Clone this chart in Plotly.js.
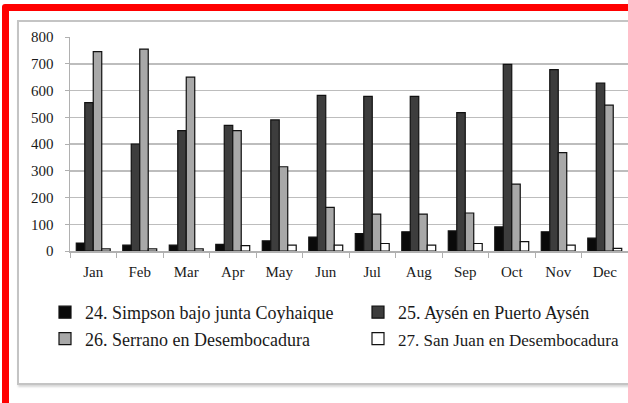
<!DOCTYPE html>
<html>
<head>
<meta charset="utf-8">
<script src="https://cdn.plot.ly/plotly-3.0.1.min.js"></script>
<style>
  html, body { margin: 0; padding: 0; background: #fff; width: 628px; height: 403px; overflow: hidden; }
  #frame-red { position: absolute; left: 2px; top: 4px; width: 660px; height: 392px; border: 7px solid #ff0000; border-radius: 3px; box-sizing: content-box; }
  #frame-gray { position: absolute; left: 17px; top: 20px; width: 660px; height: 361px; border: 2px solid #c4c4c4; box-shadow: 1px 2px 2px #d8d8d8; }
  #chart { position: absolute; left: 0; top: 0; width: 628px; height: 403px; }
</style>
</head>
<body>
<div id="frame-gray"></div>
<div id="frame-red"></div>
<div id="chart"></div>
<script>
const months = ["Jan","Feb","Mar","Apr","May","Jun","Jul","Aug","Sep","Oct","Nov","Dec"];
const simpson = [30, 22, 22, 25, 38, 52, 65, 72, 75, 90, 72, 48];
const aysen   = [555, 400, 450, 470, 490, 582, 578, 578, 517, 698, 678, 628];
const serrano = [745, 755, 650, 450, 315, 163, 138, 138, 142, 250, 368, 545];
const sanjuan = [8, 8, 8, 20, 22, 22, 28, 22, 28, 35, 22, 10];
const seriesNames = [
  "24. Simpson bajo junta Coyhaique",
  "25. Aysén en Puerto Aysén",
  "26. Serrano en Desembocadura",
  "27. San Juan en Desembocadura"
];
const seriesData = [simpson, aysen, serrano, sanjuan];
const fills = ["#0a0a0a", "#3d3d3d", "#a8a8a8", "#ffffff"];
// last legend entry slightly smaller so it fits inside the frame
const legendSizes = [18, 18, 18, 17];

const traces = seriesData.map((vals, i) => ({
  type: "bar",
  x: months,
  y: vals,
  name: '<span style="font-size:' + legendSizes[i] + 'px">' + seriesNames[i] + '</span>',
  marker: { color: fills[i], line: { color: "#111", width: 1.2 } }
}));

const layout = {
  width: 628, height: 403,
  margin: { l: 70, r: 0, t: 37, b: 152, autoexpand: false },
  paper_bgcolor: "rgba(0,0,0,0)",
  plot_bgcolor: "rgba(0,0,0,0)",
  barmode: "group",
  bargap: 0.27,
  bargroupgap: 0,
  font: { family: "Liberation Serif, Times New Roman, serif", color: "#1a1a1a" },
  xaxis: {
    type: "category",
    showline: true, linecolor: "#b0b0b0", linewidth: 1.5,
    ticks: "outside", tickson: "boundaries", ticklen: 5, tickcolor: "#b0b0b0",
    ticklabelstandoff: 6,
    tickfont: { size: 15, family: "Liberation Serif, serif", color: "#1a1a1a" },
    showgrid: false
  },
  yaxis: {
    range: [0, 800],
    dtick: 100,
    showline: true, linecolor: "#b0b0b0", linewidth: 1.5,
    ticks: "outside", ticklen: 4, tickcolor: "#b0b0b0",
    ticklabelstandoff: 8,
    gridcolor: "#bdbdbd", gridwidth: 1.5,
    zeroline: false,
    tickfont: { size: 15, family: "Liberation Serif, serif", color: "#1a1a1a" }
  },
  showlegend: true,
  legend: {
    orientation: "h",
    xref: "paper", yref: "paper",
    x: (45 - 70) / 558, y: (251 - 294) / 214,
    xanchor: "left", yanchor: "top",
    entrywidth: 268, entrywidthmode: "pixels",
    font: { size: 18, family: "Liberation Serif, serif", color: "#1a1a1a" },
    bgcolor: "rgba(0,0,0,0)",
    traceorder: "normal"
  }
};

Plotly.newPlot("chart", traces, layout, { displayModeBar: false, staticPlot: true });
</script>
</body>
</html>
